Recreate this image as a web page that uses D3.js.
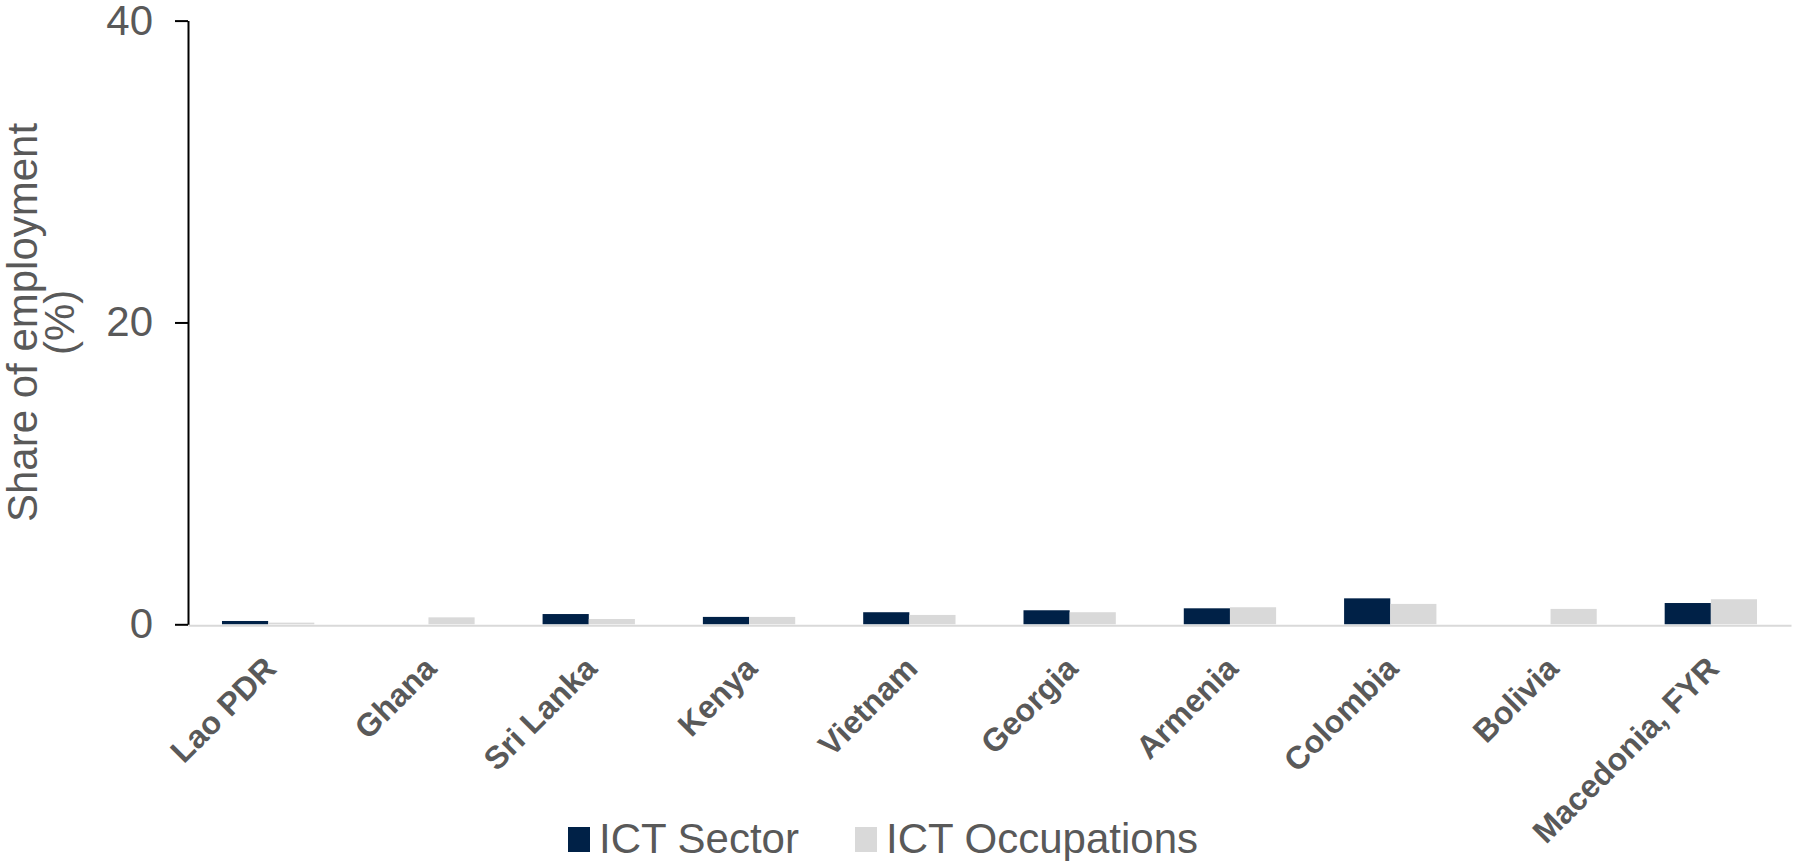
<!DOCTYPE html>
<html>
<head>
<meta charset="utf-8">
<script src="https://cdn.jsdelivr.net/npm/d3@7"></script>
<style>
  html, body { margin: 0; padding: 0; background: #ffffff; }
  svg { display: block; font-family: "Liberation Sans", Arial, sans-serif; }
</style>
</head>
<body>
<svg id="chart" width="1793" height="861"></svg>
<script>
// Share of employment in ICT, by country (%)
const countries = ["Lao PDR", "Ghana", "Sri Lanka", "Kenya", "Vietnam", "Georgia",
                   "Armenia", "Colombia", "Bolivia", "Macedonia, FYR"];
const ictSector      = [0.22, null, 0.68, 0.49, 0.80, 0.93, 1.06, 1.72, null, 1.41];
const ictOccupations = [0.11, 0.46, 0.35, 0.49, 0.62, 0.80, 1.13, 1.35, 1.02, 1.66];
const seriesNames  = ["ICT Sector", "ICT Occupations"];
const seriesColors = ["#002147", "#d9d9d9"];
const yTicks = [0, 20, 40];

const textColor = "#595959";
const svg = d3.select("#chart");

const margin = { left: 188, right: 2, top: 20.6, bottom: 236.7 };
const W = +svg.attr("width"), H = +svg.attr("height");
const x0 = margin.left, x1 = W - margin.right;
const yBase = H - margin.bottom, yTop = margin.top;

const rows = countries.map((c, i) => ({
  country: c,
  values: [ictSector[i], ictOccupations[i]]
}));

const x = d3.scaleBand().domain(countries).range([x0, x1])
  .paddingInner(0.424).paddingOuter(0.212);
const xs = d3.scaleBand().domain(seriesNames).range([0, x.bandwidth()]);
const y = d3.scaleLinear().domain([0, 40]).range([yBase, yTop]);

// bars
const groups = svg.append("g").selectAll("g").data(rows).join("g")
  .attr("transform", d => `translate(${x(d.country)},0)`);
groups.selectAll("rect")
  .data(d => d.values.map((v, k) => ({ v, k })).filter(e => e.v != null))
  .join("rect")
  .attr("x", e => xs(seriesNames[e.k]))
  .attr("width", xs.bandwidth())
  .attr("y", e => y(e.v))
  .attr("height", e => yBase - y(e.v))
  .attr("fill", e => seriesColors[e.k]);

// category axis
const xAxis = svg.append("g")
  .attr("transform", `translate(0,${yBase})`)
  .call(d3.axisBottom(x).tickSize(0).tickSizeOuter(0).tickPadding(0));
xAxis.select(".domain").attr("stroke", "#d9d9d9").attr("stroke-width", 2)
  .attr("transform", "translate(0,1)");
xAxis.selectAll(".tick text")
  .attr("fill", textColor)
  .style("font-size", "32px")
  .style("font-weight", "bold")
  .attr("text-anchor", "end")
  .attr("dy", null)
  .attr("y", null)
  .attr("transform", "translate(10,46) rotate(-45)");

// value axis
const yAxis = svg.append("g")
  .attr("transform", `translate(${x0},0)`)
  .call(d3.axisLeft(y).tickValues(yTicks).tickSize(13).tickSizeOuter(0).tickPadding(22));
yAxis.select(".domain").attr("stroke", "#000").attr("stroke-width", 2);
yAxis.selectAll(".tick line").attr("stroke", "#000").attr("stroke-width", 2);
yAxis.selectAll(".tick text")
  .attr("fill", textColor)
  .style("font-size", "42px");

// axis title
const yMid = (yBase + yTop) / 2;
const title = svg.append("text")
  .attr("transform", `translate(0,${yMid}) rotate(-90)`)
  .attr("text-anchor", "middle")
  .attr("fill", textColor)
  .style("font-size", "42px");
title.append("tspan").attr("x", 0).attr("y", 37).text("Share of employment");
title.append("tspan").attr("x", 0).attr("y", 74).text("(%)");

// legend
const legendItems = [
  { name: seriesNames[0], color: seriesColors[0], x: 568 },
  { name: seriesNames[1], color: seriesColors[1], x: 855 }
];
const legend = svg.append("g").selectAll("g").data(legendItems).join("g")
  .attr("transform", d => `translate(${d.x},827)`);
legend.append("rect").attr("width", 22).attr("height", 25).attr("fill", d => d.color);
legend.append("text")
  .attr("x", 31).attr("y", 26)
  .attr("fill", textColor)
  .style("font-size", "42px")
  .text(d => d.name);
</script>
</body>
</html>
